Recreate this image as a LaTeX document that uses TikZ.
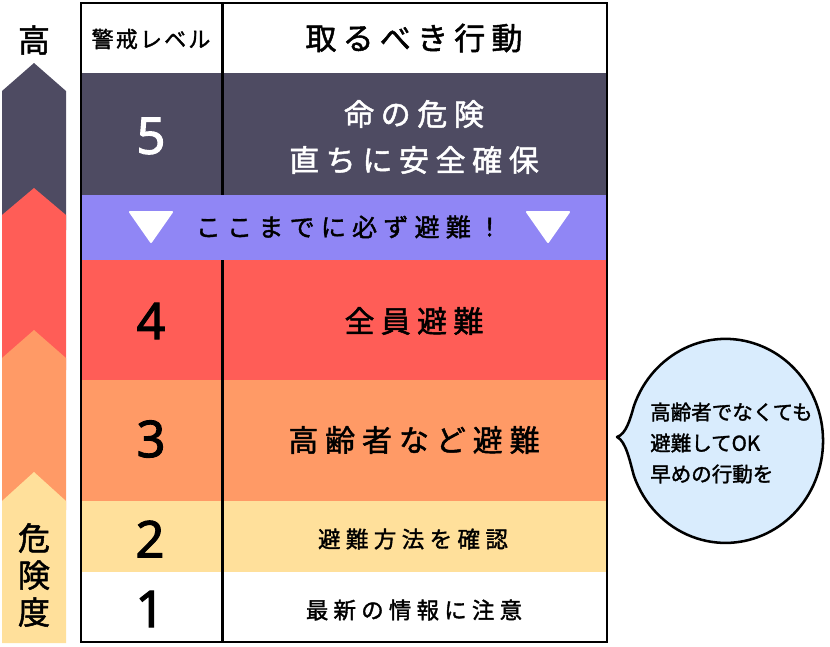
\documentclass[tikz,border=0pt]{standalone}
\usepackage{fontspec}
\setmainfont{Noto Sans CJK JP}
\newfontfamily\numfont[FakeBold=2]{Noto Sans}
\newfontfamily\jpfont[FakeBold=1.6]{Noto Sans CJK JP}
\newcommand{\jptext}[3]{\fontsize{\fpeval{#1*0.75}}{\fpeval{#2*0.75}}\selectfont\jpfont\addfontfeature{LetterSpace=#3}}
\definecolor{cdark}{HTML}{4E4B62}
\definecolor{cred}{HTML}{FF5D57}
\definecolor{corange}{HTML}{FF9A66}
\definecolor{cyellow}{HTML}{FFE09B}
\definecolor{cpurple}{HTML}{9086F5}
\definecolor{cbubble}{HTML}{D9ECFD}
\tikzset{
  lv/.style={font=\fontsize{38}{42}\selectfont\numfont,anchor=center,inner sep=0pt},
  act/.style={anchor=center,inner sep=0pt,align=center},
  rule/.style={draw=black,line width=2.2pt},
  tri/.style={fill=white,draw=white,line width=1.5pt,line join=round},
}
\begin{document}
\begin{tikzpicture}[x=0.75pt,y=-0.75pt]
\useasboundingbox (0,0) rectangle (830,646);
% left scale
\fill[cdark] (2,91) -- (34,63) -- (66,91) -- (66,230) -- (2,230) -- cycle;
\fill[cred] (2,215) -- (34,188) -- (66,215) -- (66,370) -- (2,370) -- cycle;
\fill[corange] (2,358) -- (34,330) -- (66,358) -- (66,510) -- (2,510) -- cycle;
\fill[cyellow] (2,501) -- (34,472) -- (66,501) -- (66,643) -- (2,643) -- cycle;
\node[act,font=\jptext{32}{36}{0}] (high) at (34,40) {高};
\node[act,font=\jptext{32}{37}{0}] (risk) at (34,575) {危\\険\\度};
% table bands
\fill[cdark] (81,73) rectangle (607,195);
\fill[cpurple] (81,195) rectangle (607,260);
\fill[cred] (81,260) rectangle (607,380);
\fill[corange] (81,380) rectangle (607,501);
\fill[cyellow] (81,501) rectangle (607,572);
% table rules
\draw[rule] (222.5,3) -- (222.5,195);
\draw[rule] (222.5,260) -- (222.5,642);
\draw[rule] (81,3) rectangle (607,642);
% banner triangles
\fill[tri] (130,212) -- (172,212) -- (151,242) -- cycle;
\fill[tri] (527,212) -- (569,212) -- (548,242) -- cycle;
% header
\node[act,font=\jptext{22}{26}{10}] (hlevel) at (151,39) {警戒レベル};
\node[act,font=\jptext{31}{36}{20}] (hact) at (414,38) {取るべき行動};
% levels
\node[lv,text=white] (l5) at (151,136) {5};
\node[lv] (l4) at (151,321) {4};
\node[lv] (l3) at (151,439) {3};
\node[lv] (l2) at (150,539) {2};
\node[lv] (l1) at (150,609) {1};
% actions
\node[act,text=white,font=\jptext{30}{46}{22}] (a5) at (414,137) {命の危険\\直ちに安全確保};
\node[act,font=\jptext{25}{28}{25}] (banner) at (349,227) {ここまでに必ず避難！};
\node[act,font=\jptext{30}{34}{21}] (a4) at (414,321) {全員避難};
\node[act,font=\jptext{30}{34}{23}] (a3) at (414,440) {高齢者など避難};
\node[act,font=\jptext{22.5}{26}{24}] (a2) at (413,539) {避難方法を確認};
\node[act,font=\jptext{22.5}{26}{23}] (a1) at (414,610) {最新の情報に注意};
% bubble
\coordinate (btop) at (633.9,406);
\coordinate (btip) at (617,437);
\draw[fill=cbubble,draw=black,line width=1.9pt,line join=round]
  (btop) arc[start angle=160,end angle=-160,x radius=73.125pt,y radius=76.5pt]
  .. controls (630,462) and (626,441) .. (btip)
  .. controls (626,434) and (630,420) .. (btop) -- cycle;
\node[act,anchor=west,align=left,font=\jptext{20.5}{31}{0}] (note) at (650,443) {高齢者でなくても\\避難してOK\\早めの行動を};
\end{tikzpicture}
\end{document}
